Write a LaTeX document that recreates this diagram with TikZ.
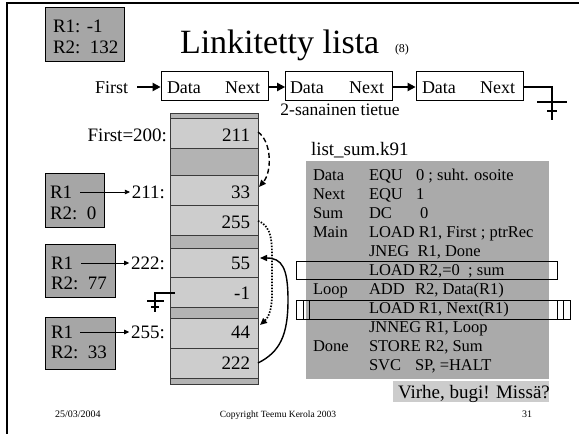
\documentclass[tikz,border=0pt]{standalone}
\usepackage{fontspec}
\setmainfont{Liberation Serif}
\usetikzlibrary{arrows.meta}
\definecolor{regfill}{HTML}{A6A6A6}
\definecolor{cellL}{HTML}{CDCDCD}
\definecolor{cellD}{HTML}{B3B3B3}
\definecolor{codefill}{HTML}{AAAAAA}
\definecolor{virhefill}{HTML}{CCCCCC}
\definecolor{cellline}{HTML}{3A3A3A}
\newcommand{\fsz}[1]{\fontsize{#1}{#1}\selectfont}
\begin{document}
\begin{tikzpicture}[x=1pt,y=-1pt,
  tw/.style={inner sep=0pt,outer sep=0pt,anchor=base west},
  te/.style={inner sep=0pt,outer sep=0pt,anchor=base east},
  tc/.style={inner sep=0pt,outer sep=0pt,anchor=base},
  regbox/.style={draw=black,line width=0.7pt,fill=regfill},
  listbox/.style={draw=black,line width=0.7pt,fill=white,minimum width=107pt,minimum height=29pt,inner sep=0pt},
  bigarrow/.style={line width=2pt,-{Triangle[length=8pt,width=8pt]}},
  smallarrow/.style={line width=0.7pt,-{Triangle[length=5pt,width=4.5pt]}},
  curvearrow/.style={line width=1.4pt,-{Triangle[length=7pt,width=6pt]}},
  groundline/.style={line width=2pt},
  cellbox/.style={draw=cellline,line width=0.8pt},
  codeline/.style={tw,font=\fsz{16.5}},
  outline/.style={draw=black,line width=0.8pt}]
\useasboundingbox (0,0) rectangle (579,434);
\fill[white] (0,0) rectangle (579,434);
% slide frame
\draw[line width=2.5pt] (7,434) -- (7,3) -- (579,3);

% top register box
\draw[regbox] (45,7) rectangle (124,61);
\node[tw,font=\fsz{19}] (rtop1) at (53,32) {R1: -1};
\node[tw,font=\fsz{19}] (rtop2) at (53,53) {R2:\ \ 132};

% title
\node[tw,font=\fsz{34}] (title) at (180,53) {Linkitetty lista};
\node[tw,font=\fsz{12}] (titlenum) at (395,52) {(8)};

% linked list
\node[tw,font=\fsz{18}] (first) at (95,93) {First};
\node[listbox] (b1) at (214.5,86) {};
\node[listbox] (b2) at (339,86) {};
\node[listbox] (b3) at (469.5,86) {};
\node[tw,font=\fsz{18}] (b1d) at (167,93) {Data};
\node[te,font=\fsz{18}] (b1n) at (260,93) {Next};
\node[tw,font=\fsz{18}] (b2d) at (290,93) {Data};
\node[te,font=\fsz{18}] (b2n) at (384,93) {Next};
\node[tw,font=\fsz{18}] (b3d) at (422,93) {Data};
\node[te,font=\fsz{18}] (b3n) at (515,93) {Next};
\coordinate (fa) at (137,87);
\draw[bigarrow] (fa) -- (b1.west |- fa);
\draw[bigarrow] (b1.east |- fa) -- (b2.west |- fa);
\draw[bigarrow] (b2.east |- fa) -- (b3.west |- fa);
\coordinate (g1) at (552,87);
\coordinate (g1b) at (552,120);
\draw[groundline] (b3.east |- g1) -- (g1) -- (g1b);
\draw[groundline] (537,102) -- (567,102);
\draw[groundline] (547,111) -- (557,111);
\node[tc,font=\fsz{17.5}] (twoword) at (340,115) {2-sanainen tietue};

% memory column
\fill[cellD] (170,113) rectangle (258,118);
\draw[cellbox,fill=cellL] (170,118) rectangle (258,148);
\draw[cellbox,fill=cellD] (170,148) rectangle (258,175);
\draw[cellbox,fill=cellL] (170,175) rectangle (258,205);
\draw[cellbox,fill=cellL] (170,205) rectangle (258,235);
\draw[cellbox,fill=cellD] (170,235) rectangle (258,248);
\draw[cellbox,fill=cellL] (170,248) rectangle (258,277);
\draw[cellbox,fill=cellL] (170,277) rectangle (258,307);
\draw[cellbox,fill=cellD] (170,307) rectangle (258,318);
\draw[cellbox,fill=cellL] (170,318) rectangle (258,348);
\draw[cellbox,fill=cellL] (170,348) rectangle (258,378);
\draw[cellbox,fill=cellD] (170,378) rectangle (258,384);
\draw[cellbox] (170,113) rectangle (258,384);

\node[te,font=\fsz{19}] (v211) at (250,141) {211};
\node[te,font=\fsz{19}] (v33) at (250,198) {33};
\node[te,font=\fsz{19}] (v255) at (250,228) {255};
\node[te,font=\fsz{19}] (v55) at (250,269) {55};
\node[te,font=\fsz{19}] (vm1) at (250,299) {-1};
\node[te,font=\fsz{19}] (v44) at (250,338) {44};
\node[te,font=\fsz{19}] (v222) at (250,369) {222};

\node[te,font=\fsz{19}] (lfirst) at (167,141) {First=200:};
\node[te,font=\fsz{19}] (l211) at (165,198) {211:};
\node[te,font=\fsz{19}] (l222) at (165,269) {222:};
\node[te,font=\fsz{19}] (l255) at (165,338) {255:};

% register boxes
\draw[regbox] (45,173) rectangle (104,227);
\node[tw,font=\fsz{19}] (ra1) at (50,198) {R1};
\node[tw,font=\fsz{19}] (ra2) at (50,219) {R2:\ \ 0};
\draw[regbox] (45,244) rectangle (115,297);
\node[tw,font=\fsz{19}] (rb1) at (51,269) {R1};
\node[tw,font=\fsz{19}] (rb2) at (51,289) {R2:\ \ 77};
\draw[regbox] (45,317) rectangle (115,369);
\node[tw,font=\fsz{19}] (rc1) at (51,338) {R1};
\node[tw,font=\fsz{19}] (rc2) at (51,358) {R2:\ \ 33};
\coordinate (ra) at (80,192);
\coordinate (rb) at (81,263);
\coordinate (rc) at (80,332);
\draw[smallarrow] (ra) -- ([xshift=-2pt]ra -| l211.west);
\draw[smallarrow] (rb) -- ([xshift=-2pt]rb -| l222.west);
\draw[smallarrow] (rc) -- ([xshift=-2pt]rc -| l255.west);

% ground at -1 cell
\coordinate (g2a) at (175,293);
\coordinate (g2b) at (155,293);
\coordinate (g2c) at (155,312);
\draw[groundline] (g2a) -- (g2b) -- (g2c);
\draw[groundline] (147,301) -- (164,301);
\draw[groundline] (151,307) -- (159,307);

% pointer arrows
\coordinate (p211) at (258,132);
\coordinate (p33) at (259,187);
\draw[curvearrow,dash pattern=on 5pt off 3pt] (p211) .. controls (272,142) and (272,172) .. (p33);
\coordinate (p255) at (258,221);
\coordinate (p44) at (260,325);
\draw[curvearrow,line width=1.7pt,dash pattern=on 1.5pt off 1.5pt] (p255) .. controls (273,226) and (272,245) .. (272,265) -- (272,295) .. controls (272,310) and (268,318) .. (p44);
\coordinate (p222) at (258,363);
\coordinate (p55) at (260,258);
\draw[curvearrow] (p222) .. controls (280,352) and (288,335) .. (288,300) .. controls (288,268) and (282,258) .. (p55);

% code
\node[tw,font=\fsz{19}] (codetitle) at (311,155) {list\_sum.k91};
\draw[fill=codefill,draw=none] (306,161) rectangle (549,379);
\node[codeline] (c1a) at (313,180) {Data};
\node[codeline] (c1b) at (369,180) {EQU};
\node[codeline] (c1c) at (416,180) {0 ; suht. osoite};
\node[codeline] (c2a) at (313,199) {Next};
\node[codeline] (c2b) at (369,199) {EQU};
\node[codeline] (c2c) at (416,199) {1};
\node[codeline] (c3a) at (313,218) {Sum};
\node[codeline] (c3b) at (369,218) {DC};
\node[codeline] (c3c) at (420,218) {0};
\node[codeline] (c4a) at (313,237) {Main};
\node[codeline] (c4b) at (369,237) {LOAD R1, First ; ptrRec};
\node[codeline] (c5b) at (369,256) {JNEG\ \ R1, Done};
\node[codeline] (c6b) at (369,275) {LOAD R2,=0\ \ ; sum};
\node[codeline] (c7a) at (313,294) {Loop};
\node[codeline] (c7b) at (369,294) {ADD};
\node[codeline] (c7c) at (415,294) {R2, Data(R1)};
\node[codeline] (c8b) at (369,313) {LOAD R1, Next(R1)};
\node[codeline] (c9b) at (369,332) {JNNEG R1, Loop};
\node[codeline] (c10a) at (313,351) {Done};
\node[codeline] (c10b) at (369,351) {STORE R2, Sum};
\node[codeline] (c11b) at (369,370) {SVC};
\node[codeline] (c11c) at (415,370) {SP, =HALT};
\draw[outline] (296,261) rectangle (557,279);
\draw[outline] (296,300) rectangle (570,319);
\draw[outline] (303,300) rectangle (563,319);
\draw[outline] (309,300) rectangle (557,319);

\draw[fill=virhefill,draw=none] (393,381) rectangle (549,402);
\node[tw,font=\fsz{19}] (virhe) at (398,398) {Virhe, bugi! Missä?};

% footer
\node[tw,font=\fsz{10}] (date) at (55,417) {25/03/2004};
\node[tc,font=\fsz{9.5}] (copy) at (278,417) {Copyright Teemu Kerola 2003};
\node[te,font=\fsz{10}] (pnum) at (532,417) {31};
\end{tikzpicture}
\end{document}
